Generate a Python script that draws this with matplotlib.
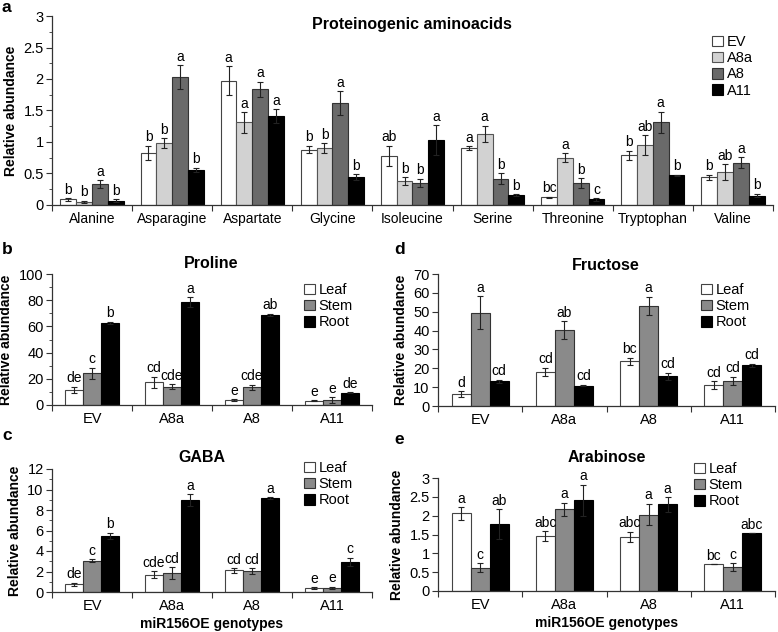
import matplotlib
matplotlib.use('Agg')
import matplotlib.pyplot as plt
import numpy as np
from matplotlib.patches import Patch
from matplotlib.ticker import MultipleLocator, FuncFormatter

plt.rcParams['font.family'] = ['Liberation Sans', 'DejaVu Sans']

# panel a - proteinogenic aminoacids
amino = ['Alanine', 'Asparagine', 'Aspartate', 'Glycine', 'Isoleucine',
         'Serine', 'Threonine', 'Tryptophan', 'Valine']
lines_a = ['EV', 'A8a', 'A8', 'A11']
ev_m = [0.09, 0.83, 1.97, 0.88, 0.78, 0.90, 0.12, 0.79, 0.44]
ev_e = [0.02, 0.11, 0.23, 0.06, 0.16, 0.03, 0.01, 0.07, 0.04]
a8a_m = [0.05, 0.98, 1.31, 0.90, 0.38, 1.13, 0.75, 0.95, 0.52]
a8a_e = [0.02, 0.08, 0.16, 0.08, 0.06, 0.13, 0.07, 0.16, 0.13]
a8_m = [0.33, 2.03, 1.84, 1.62, 0.35, 0.42, 0.35, 1.31, 0.67]
a8_e = [0.06, 0.19, 0.12, 0.19, 0.07, 0.08, 0.08, 0.17, 0.09]
a11_m = [0.07, 0.56, 1.41, 0.44, 1.03, 0.16, 0.09, 0.47, 0.15]
a11_e = [0.02, 0.03, 0.11, 0.05, 0.24, 0.01, 0.02, 0.01, 0.03]
ev_l = ['b', 'b', 'a', 'b', 'ab', 'a', 'bc', 'b', 'b']
a8a_l = ['b', 'b', 'a', 'b', 'b', 'a', 'a', 'ab', 'ab']
a8_l = ['a', 'a', 'a', 'a', 'b', 'b', 'b', 'a', 'a']
a11_l = ['b', 'b', 'a', 'b', 'a', 'b', 'c', 'b', 'b']

# panels b-e - tissues per genotype
genotypes = ['EV', 'A8a', 'A8', 'A11']
tissues = ['Leaf', 'Stem', 'Root']

pro_m = [[11.5, 17.3, 3.6, 3.1], [24.2, 14.0, 13.5, 3.6], [62.5, 78.6, 68.6, 9.4]]
pro_e = [[2.5, 4.4, 0.6, 0.4], [4.4, 2.0, 2.0, 2.3], [1.0, 3.5, 1.0, 0.5]]
pro_l = [['de', 'cd', 'e', 'e'], ['c', 'cde', 'cde', 'e'], ['b', 'a', 'ab', 'de']]

fru_m = [[6.3, 18.0, 23.8, 11.0], [49.5, 40.3, 53.2, 13.4], [13.0, 10.8, 15.8, 21.5]]
fru_e = [[1.4, 2.3, 1.8, 2.0], [8.8, 4.6, 4.8, 2.2], [1.0, 0.4, 1.8, 1.0]]
fru_l = [['d', 'cd', 'bc', 'cd'], ['a', 'ab', 'a', 'cd'], ['cd', 'cd', 'cd', 'cd']]

gaba_m = [[0.75, 1.7, 2.1, 0.38], [3.03, 1.85, 2.03, 0.38], [5.5, 8.95, 9.15, 2.95]]
gaba_e = [[0.15, 0.35, 0.2, 0.08], [0.15, 0.55, 0.3, 0.12], [0.3, 0.6, 0.1, 0.4]]
gaba_l = [['de', 'cde', 'cd', 'e'], ['c', 'cd', 'cd', 'e'], ['b', 'a', 'a', 'c']]

ara_m = [[2.06, 1.46, 1.44, 0.71], [0.62, 2.17, 2.03, 0.64], [1.77, 2.41, 2.30, 1.53]]
ara_e = [[0.17, 0.13, 0.13, 0.0], [0.12, 0.17, 0.29, 0.1], [0.4, 0.41, 0.19, 0.0]]
ara_l = [['a', 'abc', 'abc', 'bc'], ['c', 'a', 'a', 'c'], ['ab', 'a', 'a', 'abc']]

W, H = 778, 632
fig = plt.figure(figsize=(W / 100, H / 100), dpi=100)


def px_axes(left, right, top, bottom):
    return fig.add_axes([left / W, 1 - bottom / H, (right - left) / W, (bottom - top) / H])


def style(ax, ncat, ymax, major, minor, labels, label_fs):
    ax.spines['top'].set_visible(False)
    ax.spines['right'].set_visible(False)
    for s in ('left', 'bottom'):
        ax.spines[s].set_color('#333333')
        ax.spines[s].set_linewidth(0.9)
    ax.set_xlim(-0.5, ncat - 0.5)
    ax.set_ylim(0, ymax)
    ax.set_xticks(np.arange(-0.5, ncat, 1.0))
    ax.set_xticklabels([])
    ax.set_xticks(np.arange(ncat), minor=True)
    ax.set_xticklabels(labels, minor=True, fontsize=label_fs)
    ax.tick_params(axis='x', which='major', direction='out', length=4, color='#333333')
    ax.tick_params(axis='x', which='minor', length=0, pad=5)
    ax.yaxis.set_major_locator(MultipleLocator(major))
    if minor:
        ax.yaxis.set_minor_locator(MultipleLocator(minor))
    ax.yaxis.set_major_formatter(FuncFormatter(lambda v, p: '%g' % v))
    ax.tick_params(axis='y', which='both', direction='out', color='#333333', labelsize=10.5)
    ax.tick_params(axis='y', which='major', length=4, pad=2)
    ax.tick_params(axis='y', which='minor', length=2.5)
    ax.set_ylabel('Relative abundance', fontsize=10, fontweight='bold', labelpad=4)


def bars(ax, means, errs, lets, colors, edges, width):
    n = len(means)
    x = np.arange(len(means[0]))
    for i in range(n):
        pos = x + (i - (n - 1) / 2) * width
        ax.bar(pos, means[i], width, color=colors[i], edgecolor=edges[i], linewidth=0.8, zorder=2)
        ax.errorbar(pos, means[i], yerr=errs[i], fmt='none', ecolor='#222222',
                    elinewidth=0.8, capsize=2.3, capthick=0.8, zorder=3)
        for xx, m, e, t in zip(pos, means[i], errs[i], lets[i]):
            ax.annotate(t, (xx, m + e), xytext=(0, 1), textcoords='offset points',
                        ha='center', va='bottom', fontsize=10, zorder=4)


def legend(names, colors, edges, left, top):
    # left / top in figure pixels
    handles = [Patch(facecolor=c, edgecolor=e, linewidth=0.8) for c, e in zip(colors, edges)]
    fig.legend(handles, names, loc='upper left', bbox_to_anchor=(left / W, 1 - top / H),
               bbox_transform=fig.transFigure, frameon=False, borderpad=0,
               fontsize=10.5, handlelength=0.75, handleheight=0.75, handletextpad=0.25,
               labelspacing=0.15, borderaxespad=0)


# ---- panel a
ax_a = px_axes(52, 773, 16, 205)
cols_a = ['white', '#d2d2d2', '#6a6a6a', 'black']
edg_a = ['#444444', '#555555', '#333333', 'black']
style(ax_a, len(amino), 3, 0.5, 0.25, amino, 10)
bars(ax_a, [ev_m, a8a_m, a8_m, a11_m], [ev_e, a8a_e, a8_e, a11_e],
     [ev_l, a8a_l, a8_l, a11_l], cols_a, edg_a, 0.197)
fig.text(412 / W, 1 - 25 / H, 'Proteinogenic aminoacids', fontsize=11.5,
         fontweight='bold', ha='center', va='center')
legend(lines_a, cols_a, edg_a, 712, 35)
fig.text(2 / W, 1 - 8 / H, 'a', fontsize=12.5, fontweight='bold', va='center')

cols_t = ['white', '#8a8a8a', 'black']
edg_t = ['#444444', '#333333', 'black']

panels = [
    ('b', 'Proline', pro_m, pro_e, pro_l, (52, 372, 274, 405), 100, 20, 10, None,
     (2, 250), (211, 263), (304, 283)),
    ('d', 'Fructose', fru_m, fru_e, fru_l, (438, 775, 274, 406), 70, 10, None, None,
     (394, 250), (606, 265), (701, 283)),
    ('c', 'GABA', gaba_m, gaba_e, gaba_l, (52, 372, 469, 592), 12, 2, 1, 'miR156OE genotypes',
     (2, 436), (202, 457), (304, 461)),
    ('e', 'Arabinose', ara_m, ara_e, ara_l, (438, 775, 478, 591), 3, 0.5, None, 'miR156OE genotypes',
     (394, 440), (607, 457), (694, 462)),
]
for tag, title, m, e, l, box, ymax, major, minor, xlab, tpos, ttl, lg in panels:
    ax = px_axes(*box)
    style(ax, 4, ymax, major, minor, genotypes, 10.5)
    bars(ax, m, e, l, cols_t, edg_t, 0.225)
    fig.text(ttl[0] / W, 1 - ttl[1] / H, title, fontsize=11.5, fontweight='bold',
             ha='center', va='center')
    legend(tissues, cols_t, edg_t, lg[0], lg[1])
    if xlab:
        ax.set_xlabel(xlab, fontsize=10, fontweight='bold', labelpad=3)
    fig.text(tpos[0] / W, 1 - tpos[1] / H, tag, fontsize=12.5, fontweight='bold', va='center')

fig.savefig('out.png', dpi=100)
